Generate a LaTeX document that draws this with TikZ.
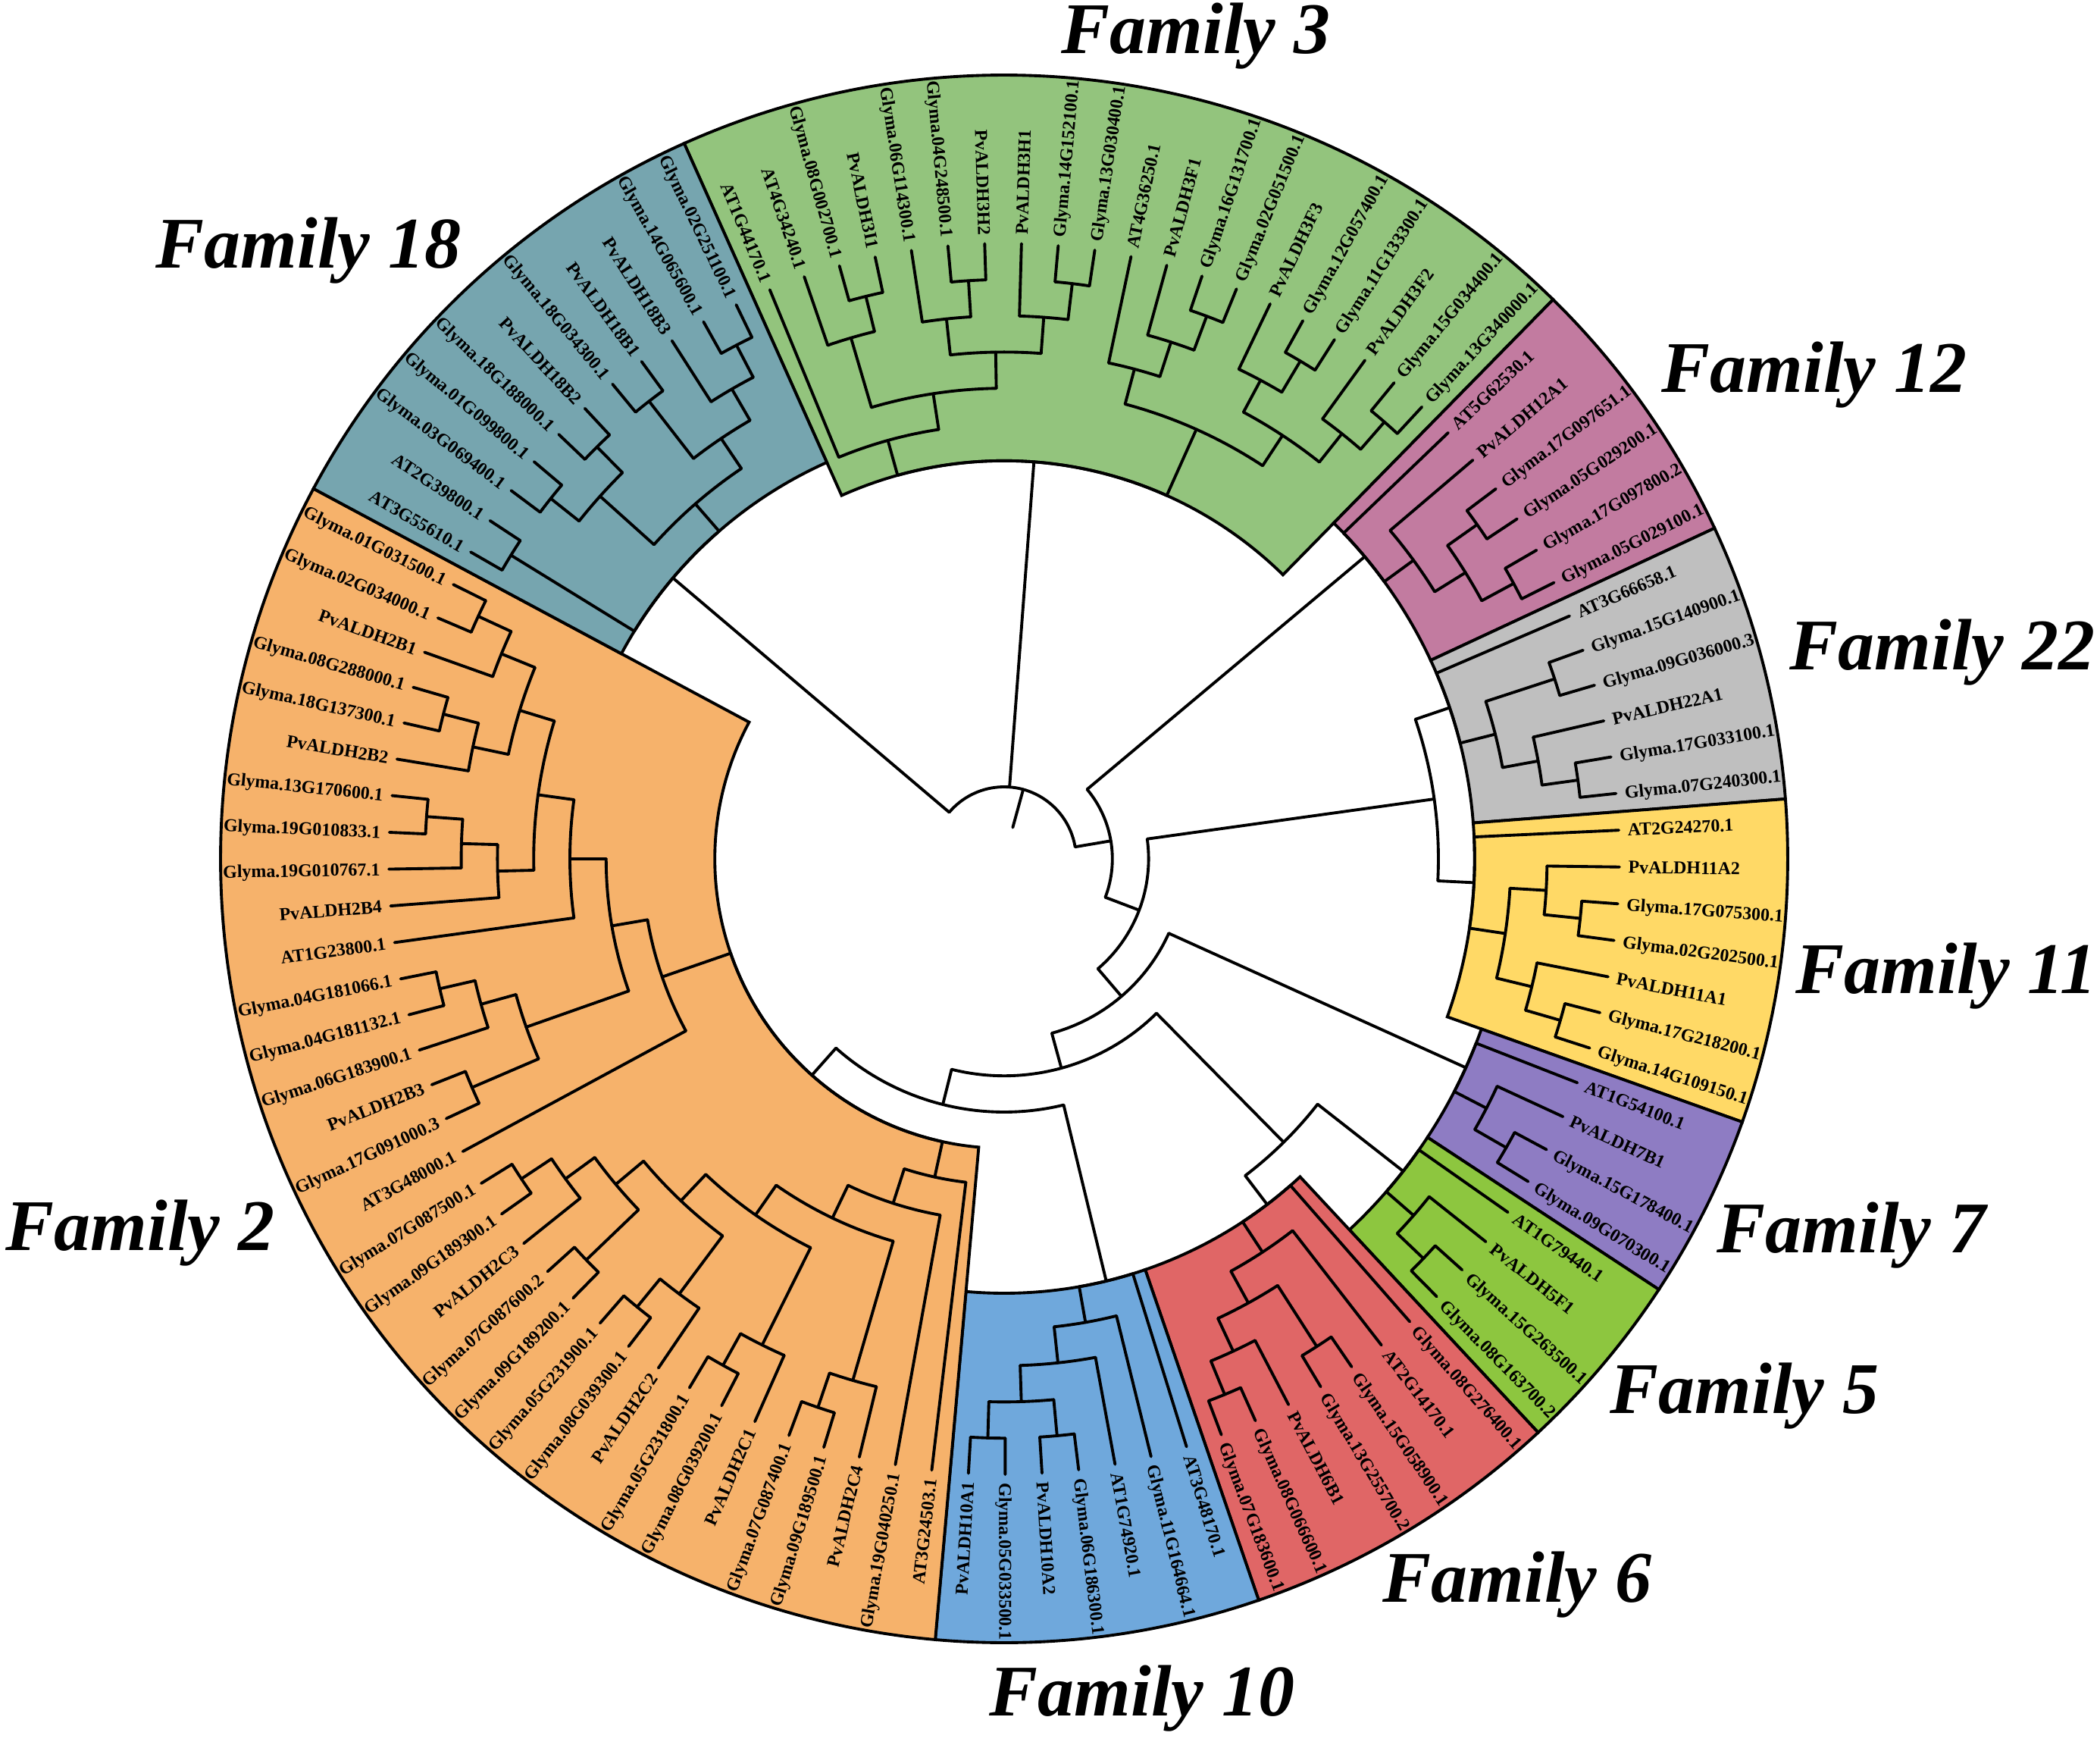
\documentclass[tikz,border=0pt]{standalone}
\usepackage{fontspec}
\setmainfont{Liberation Serif}
\definecolor{cFiii}{HTML}{93C47D}
\definecolor{cFxviii}{HTML}{76A5AF}
\definecolor{cFii}{HTML}{F6B26B}
\definecolor{cFxii}{HTML}{C27BA0}
\definecolor{cFxxii}{HTML}{BFBFBF}
\definecolor{cFxi}{HTML}{FFD966}
\definecolor{cFvii}{HTML}{8E7CC3}
\definecolor{cFv}{HTML}{8DC63F}
\definecolor{cFvi}{HTML}{E06666}
\definecolor{cFx}{HTML}{6FA8DC}
\tikzset{
 treeln/.style={line width=1.1pt, line cap=round, line join=round},
 lab/.style={font=\fontsize{6.8}{7}\selectfont\bfseries, inner sep=0pt},
 fam/.style={font=\fontsize{27.3}{30}\selectfont\bfseries\itshape, inner sep=0pt, anchor=base},
 famregion/.style={line width=1.1pt, draw=black, line join=miter},
}
% internal node: height, parent height, first child pos, last child pos
\newcommand\tnode[4]{%
 \pgfmathsetmacro\tnR{8.12-0.478*(#1)}%
 \pgfmathsetmacro\tnP{8.12-0.478*(#2)}%
 \pgfmathsetmacro\tnA{114.1-((#3)+0.5)*3.4285714}%
 \pgfmathsetmacro\tnB{114.1-((#4)+0.5)*3.4285714}%
 \pgfmathsetmacro\tnM{(\tnA+\tnB)/2}%
 \draw[treeln] (\tnA:\tnR) arc[start angle=\tnA, end angle=\tnB, radius=\tnR];%
 \draw[treeln] (\tnM:\tnP) -- (\tnM:\tnR);%
}
% leaf: index, parent height, text
\newcommand\tleaf[3]{%
 \pgfmathsetmacro\tnA{114.1-((#1)+0.5)*3.4285714}%
 \pgfmathsetmacro\tnP{8.12-0.478*(#2)}%
 \draw[treeln] (\tnA:\tnP) -- (\tnA:8.12);%
 \pgfmathtruncatemacro\tnL{((\tnA>90)||(\tnA<-90))?1:0}%
 \ifnum\tnL=1\relax
  \pgfmathsetmacro\tnC{\tnA+180}%
  \node[lab, anchor=mid east, rotate=\tnC] (L#1) at (\tnA:8.23) {#3};%
 \else
  \node[lab, anchor=mid west, rotate=\tnA] (L#1) at (\tnA:8.23) {#3};%
 \fi
}
% family region: colour, first leaf, last leaf, inner height
\newcommand\fregion[4]{%
 \pgfmathsetmacro\tnA{114.1-(#2)*3.4285714}%
 \pgfmathsetmacro\tnB{114.1-((#3)+1)*3.4285714}%
 \pgfmathsetmacro\tnR{8.12-0.478*(#4)}%
 \filldraw[famregion, fill=#1] (\tnA:\tnR) arc[start angle=\tnA, end angle=\tnB, radius=\tnR] -- (\tnB:10.34) arc[start angle=\tnB, end angle=\tnA, radius=10.34] -- cycle;%
}
\begin{document}
\begin{tikzpicture}
\useasboundingbox (-13.25,-11.64) rectangle (14.46,11.33);
% regions
\fregion{cFiii}{0}{19}{6}
\fregion{cFxii}{20}{25}{4}
\fregion{cFxxii}{26}{31}{4}
\fregion{cFxi}{32}{38}{4}
\fregion{cFvii}{39}{42}{3}
\fregion{cFv}{43}{46}{3}
\fregion{cFvi}{47}{53}{5}
\fregion{cFx}{54}{60}{5}
\fregion{cFii}{61}{93}{9}
\fregion{cFxviii}{94}{104}{5}
% backbone
\tnode{15}{16.09}{-7.96875}{29.985}
\tnode{14}{15}{21.125}{38.845}
\tnode{13}{14}{30.46875}{47.221}
\tnode{5}{13}{27.3125}{33.625}
\tnode{12}{13}{39.875}{54.567}
\tnode{11}{12}{46.015625}{63.118}
\tnode{6}{11}{43.875}{48.15625}
\tnode{10}{11}{55.0625}{71.1738}
% Family 18
\tnode{5}{15}{94.5}{99.5625}
\tnode{1}{5}{94}{95}
\tnode{4}{5}{97.5}{101.625}
\tnode{2}{4}{96.5}{98.5}
\tnode{1}{2}{96}{97}
\tnode{1}{2}{98}{99}
\tnode{3}{4}{100.5}{102.75}
\tnode{1}{3}{100}{101}
\tnode{2}{3}{102}{103.5}
\tnode{1}{2}{103}{104}
% Family 3
\tnode{6}{15}{2}{13.5625}
\tnode{5}{6}{0}{4}
\tnode{4}{5}{1.75}{6.25}
\tnode{2}{4}{1}{2.5}
\tnode{1}{2}{2}{3}
\tnode{3}{4}{4.75}{7.75}
\tnode{2}{3}{4}{5.5}
\tnode{1}{2}{5}{6}
\tnode{2}{3}{7}{8.5}
\tnode{1}{2}{8}{9}
\tnode{4}{6}{10.875}{16.25}
\tnode{3}{4}{10}{11.75}
\tnode{2}{3}{11}{12.5}
\tnode{1}{2}{12}{13}
\tnode{3}{4}{14.75}{17.75}
\tnode{2}{3}{14}{15.5}
\tnode{1}{2}{15}{16}
\tnode{2}{3}{17}{18.5}
\tnode{1}{2}{18}{19}
% Family 12
\tnode{4}{14}{20}{22.25}
\tnode{3}{4}{21}{23.5}
\tnode{2}{3}{22.5}{24.5}
\tnode{1}{2}{22}{23}
\tnode{1}{2}{24}{25}
% Family 22
\tnode{4}{5}{26}{28.625}
\tnode{3}{4}{27.5}{29.75}
\tnode{1}{3}{27}{28}
\tnode{2}{3}{29}{30.5}
\tnode{1}{2}{30}{31}
% Family 11
\tnode{4}{5}{32}{35.25}
\tnode{3}{4}{33.75}{36.75}
\tnode{2}{3}{33}{34.5}
\tnode{1}{2}{34}{35}
\tnode{2}{3}{36}{37.5}
\tnode{1}{2}{37}{38}
% Family 7
\tnode{3}{12}{39}{40.75}
\tnode{2}{3}{40}{41.5}
\tnode{1}{2}{41}{42}
% Family 5
\tnode{3}{6}{43}{44.75}
\tnode{2}{3}{44}{45.5}
\tnode{1}{2}{45}{46}
% Family 6
\tnode{5}{6}{47}{49.3125}
\tnode{4}{5}{48}{50.625}
\tnode{3}{4}{49.5}{51.75}
\tnode{1}{3}{49}{50}
\tnode{2}{3}{51}{52.5}
\tnode{1}{2}{52}{53}
% Family 10
\tnode{5}{10}{54}{56.125}
\tnode{4}{5}{55}{57.25}
\tnode{3}{4}{56}{58.5}
\tnode{2}{3}{57.5}{59.5}
\tnode{1}{2}{57}{58}
\tnode{1}{2}{59}{60}
% Family 2
\tnode{9}{10}{62.62109}{79.7266}
\tnode{8}{9}{61}{64.2421875}
\tnode{7}{8}{62}{66.484375}
\tnode{6}{7}{63.75}{69.21875}
\tnode{2}{6}{63}{64.5}
\tnode{1}{2}{64}{65}
\tnode{5}{6}{66.75}{71.6875}
\tnode{2}{5}{66}{67.5}
\tnode{1}{2}{67}{68}
\tnode{4}{5}{69.75}{73.625}
\tnode{2}{4}{69}{70.5}
\tnode{1}{2}{70}{71}
\tnode{3}{4}{72.5}{74.75}
\tnode{1}{3}{72}{73}
\tnode{2}{3}{74}{75.5}
\tnode{1}{2}{75}{76}
\tnode{7}{9}{77}{82.453}
\tnode{6}{7}{79.625}{85.28125}
\tnode{3}{6}{78.5}{80.75}
\tnode{1}{3}{78}{79}
\tnode{2}{3}{80}{81.5}
\tnode{1}{2}{81}{82}
\tnode{5}{6}{83}{87.5625}
\tnode{4}{5}{84.875}{90.25}
\tnode{3}{4}{84}{85.75}
\tnode{2}{3}{85}{86.5}
\tnode{1}{2}{86}{87}
\tnode{3}{4}{88.75}{91.75}
\tnode{2}{3}{88}{89.5}
\tnode{1}{2}{89}{90}
\tnode{2}{3}{91}{92.5}
\tnode{1}{2}{92}{93}
% leaves
\tleaf{0}{5}{AT1G44170.1}
\tleaf{1}{2}{AT4G34240.1}
\tleaf{2}{1}{Glyma.08G002700.1}
\tleaf{3}{1}{PvALDH3I1}
\tleaf{4}{2}{Glyma.06G114300.1}
\tleaf{5}{1}{Glyma.04G248500.1}
\tleaf{6}{1}{PvALDH3H2}
\tleaf{7}{2}{PvALDH3H1}
\tleaf{8}{1}{Glyma.14G152100.1}
\tleaf{9}{1}{Glyma.13G030400.1}
\tleaf{10}{3}{AT4G36250.1}
\tleaf{11}{2}{PvALDH3F1}
\tleaf{12}{1}{Glyma.16G131700.1}
\tleaf{13}{1}{Glyma.02G051500.1}
\tleaf{14}{2}{PvALDH3F3}
\tleaf{15}{1}{Glyma.12G057400.1}
\tleaf{16}{1}{Glyma.11G133300.1}
\tleaf{17}{2}{PvALDH3F2}
\tleaf{18}{1}{Glyma.15G034400.1}
\tleaf{19}{1}{Glyma.13G340000.1}
\tleaf{20}{4}{AT5G62530.1}
\tleaf{21}{3}{PvALDH12A1}
\tleaf{22}{1}{Glyma.17G097651.1}
\tleaf{23}{1}{Glyma.05G029200.1}
\tleaf{24}{1}{Glyma.17G097800.2}
\tleaf{25}{1}{Glyma.05G029100.1}
\tleaf{26}{4}{AT3G66658.1}
\tleaf{27}{1}{Glyma.15G140900.1}
\tleaf{28}{1}{Glyma.09G036000.3}
\tleaf{29}{2}{PvALDH22A1}
\tleaf{30}{1}{Glyma.17G033100.1}
\tleaf{31}{1}{Glyma.07G240300.1}
\tleaf{32}{4}{AT2G24270.1}
\tleaf{33}{2}{PvALDH11A2}
\tleaf{34}{1}{Glyma.17G075300.1}
\tleaf{35}{1}{Glyma.02G202500.1}
\tleaf{36}{2}{PvALDH11A1}
\tleaf{37}{1}{Glyma.17G218200.1}
\tleaf{38}{1}{Glyma.14G109150.1}
\tleaf{39}{3}{AT1G54100.1}
\tleaf{40}{2}{PvALDH7B1}
\tleaf{41}{1}{Glyma.15G178400.1}
\tleaf{42}{1}{Glyma.09G070300.1}
\tleaf{43}{3}{AT1G79440.1}
\tleaf{44}{2}{PvALDH5F1}
\tleaf{45}{1}{Glyma.15G263500.1}
\tleaf{46}{1}{Glyma.08G163700.2}
\tleaf{47}{5}{Glyma.08G276400.1}
\tleaf{48}{4}{AT2G14170.1}
\tleaf{49}{1}{Glyma.15G058900.1}
\tleaf{50}{1}{Glyma.13G255700.2}
\tleaf{51}{2}{PvALDH6B1}
\tleaf{52}{1}{Glyma.08G066600.1}
\tleaf{53}{1}{Glyma.07G183600.1}
\tleaf{54}{5}{AT3G48170.1}
\tleaf{55}{4}{Glyma.11G164664.1}
\tleaf{56}{3}{AT1G74920.1}
\tleaf{57}{1}{Glyma.06G186300.1}
\tleaf{58}{1}{PvALDH10A2}
\tleaf{59}{1}{Glyma.05G033500.1}
\tleaf{60}{1}{PvALDH10A1}
\tleaf{61}{8}{AT3G24503.1}
\tleaf{62}{7}{Glyma.19G040250.1}
\tleaf{63}{2}{PvALDH2C4}
\tleaf{64}{1}{Glyma.09G189500.1}
\tleaf{65}{1}{Glyma.07G087400.1}
\tleaf{66}{2}{PvALDH2C1}
\tleaf{67}{1}{Glyma.08G039200.1}
\tleaf{68}{1}{Glyma.05G231800.1}
\tleaf{69}{2}{PvALDH2C2}
\tleaf{70}{1}{Glyma.08G039300.1}
\tleaf{71}{1}{Glyma.05G231900.1}
\tleaf{72}{1}{Glyma.09G189200.1}
\tleaf{73}{1}{Glyma.07G087600.2}
\tleaf{74}{2}{PvALDH2C3}
\tleaf{75}{1}{Glyma.09G189300.1}
\tleaf{76}{1}{Glyma.07G087500.1}
\tleaf{77}{7}{AT3G48000.1}
\tleaf{78}{1}{Glyma.17G091000.3}
\tleaf{79}{1}{PvALDH2B3}
\tleaf{80}{2}{Glyma.06G183900.1}
\tleaf{81}{1}{Glyma.04G181132.1}
\tleaf{82}{1}{Glyma.04G181066.1}
\tleaf{83}{5}{AT1G23800.1}
\tleaf{84}{3}{PvALDH2B4}
\tleaf{85}{2}{Glyma.19G010767.1}
\tleaf{86}{1}{Glyma.19G010833.1}
\tleaf{87}{1}{Glyma.13G170600.1}
\tleaf{88}{2}{PvALDH2B2}
\tleaf{89}{1}{Glyma.18G137300.1}
\tleaf{90}{1}{Glyma.08G288000.1}
\tleaf{91}{2}{PvALDH2B1}
\tleaf{92}{1}{Glyma.02G034000.1}
\tleaf{93}{1}{Glyma.01G031500.1}
\tleaf{94}{1}{AT3G55610.1}
\tleaf{95}{1}{AT2G39800.1}
\tleaf{96}{1}{Glyma.03G069400.1}
\tleaf{97}{1}{Glyma.01G099800.1}
\tleaf{98}{1}{Glyma.18G188000.1}
\tleaf{99}{1}{PvALDH18B2}
\tleaf{100}{1}{Glyma.18G034300.1}
\tleaf{101}{1}{PvALDH18B1}
\tleaf{102}{2}{PvALDH18B3}
\tleaf{103}{1}{Glyma.14G065600.1}
\tleaf{104}{1}{Glyma.02G251100.1}
% family labels
\node[fam] (f3) at (2.53,10.62) {Family 3};
\node[fam] (f18) at (-9.18,7.79) {Family 18};
\node[fam] (f12) at (10.69,6.15) {Family 12};
\node[fam] (f22) at (12.38,2.50) {Family 22};
\node[fam] (f11) at (12.43,-1.77) {Family 11};
\node[fam] (f7) at (11.18,-5.19) {Family 7};
\node[fam] (f5) at (9.77,-7.31) {Family 5};
\node[fam] (f6) at (6.77,-9.80) {Family 6};
\node[fam] (f10) at (1.82,-11.30) {Family 10};
\node[fam] (f2) at (-11.40,-5.16) {Family 2};
\end{tikzpicture}
\end{document}
